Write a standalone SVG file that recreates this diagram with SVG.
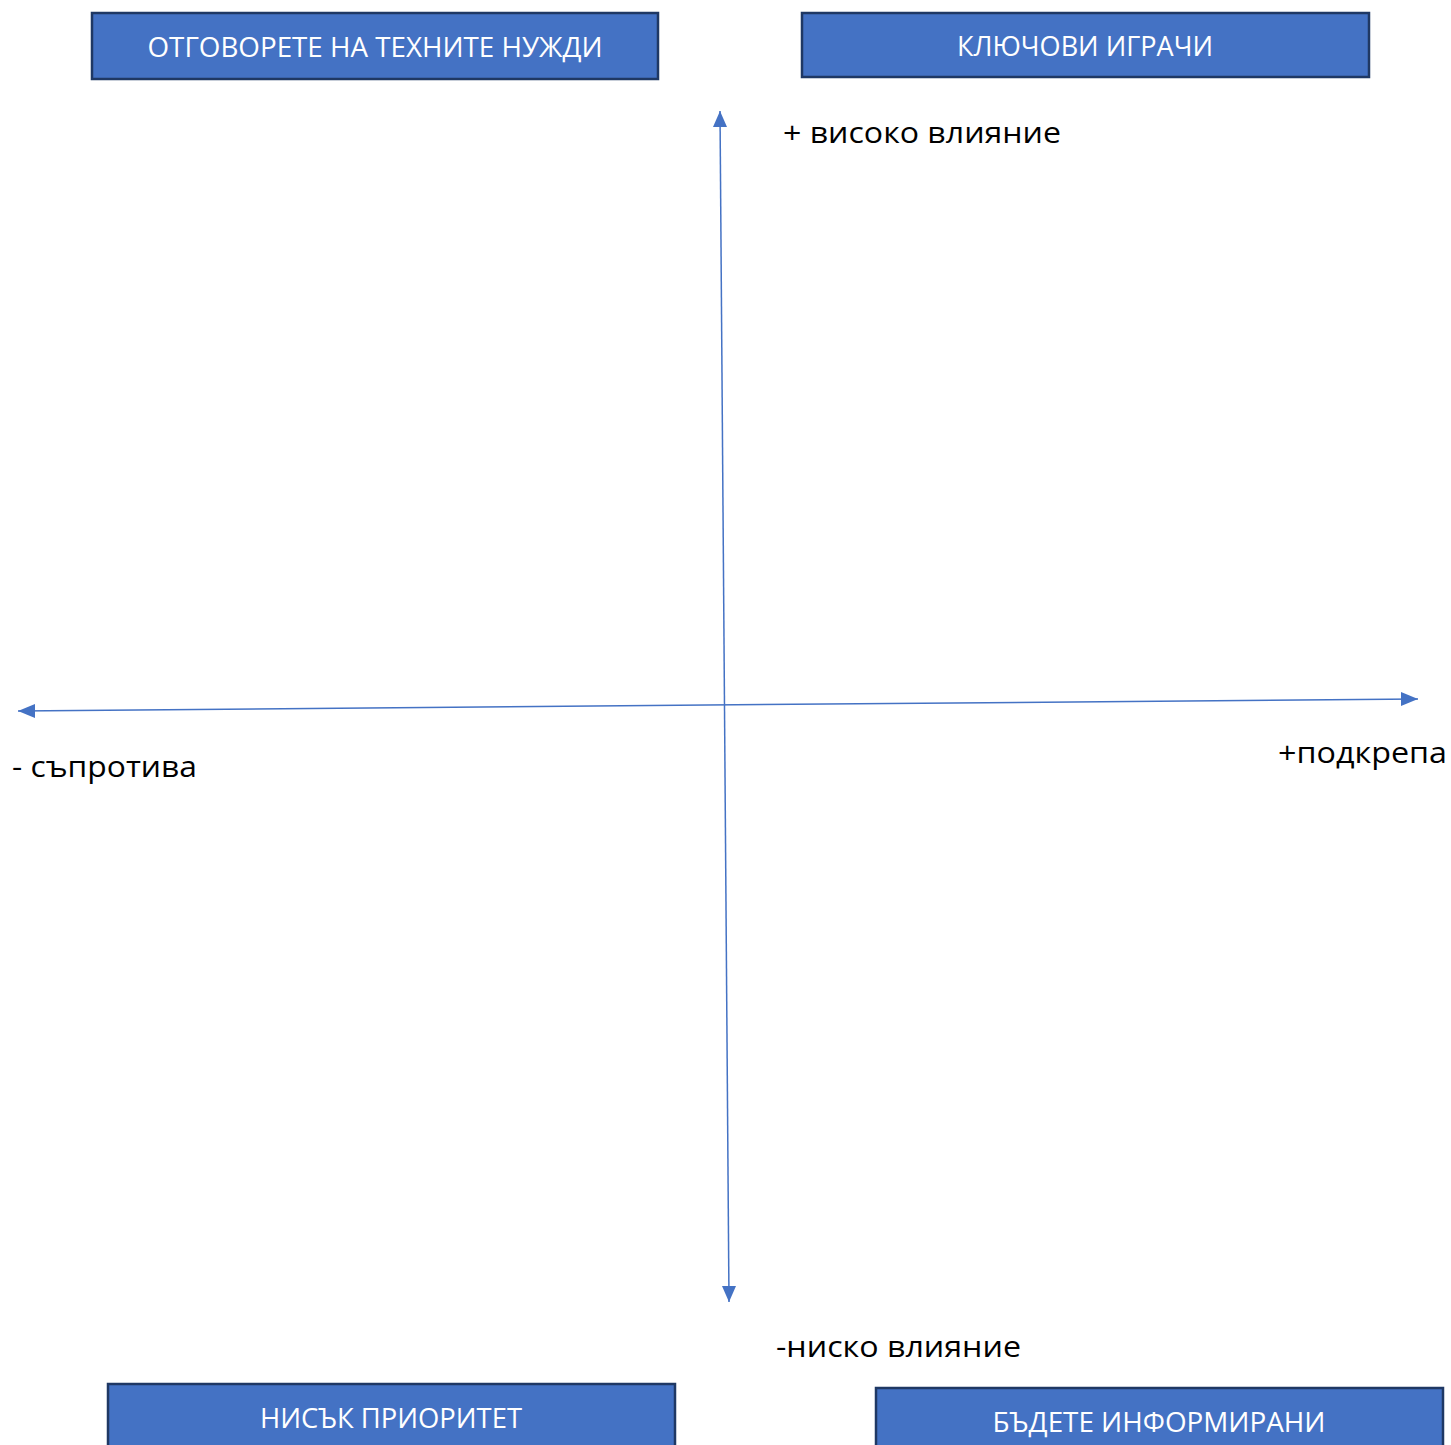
<svg xmlns="http://www.w3.org/2000/svg" width="1451" height="1445" viewBox="0 0 1451 1445">
<style>
.box{fill:#4472C4;stroke:#1F3864;stroke-width:2.5}
.bt{font-family:"Open Sans","Noto Sans",sans-serif;font-size:28px;fill:#FFFFFF;text-anchor:middle}
.lbl{font-family:"Open Sans","Noto Sans",sans-serif;font-size:30px;fill:#000000}
.ax{stroke:#4472C4;stroke-width:1.5;fill:none}
.head{fill:#4472C4}
</style>
<rect width="1451" height="1445" fill="#FFFFFF"/>
<g id="connectors">
<line class="ax" x1="720" y1="111" x2="729" y2="1302"/>
<path class="head" d="M720,111 L713,127 L727,127 z"/>
<path class="head" d="M729,1302 L722,1286 L736,1286 z"/>
<line class="ax" x1="18" y1="711" x2="1418" y2="699"/>
<path class="head" d="M18,711 L35,704 L35,718 z"/>
<path class="head" d="M1418,699 L1401,692 L1401,706 z"/>
</g>
<g id="node-needs">
<rect class="box" x="92" y="13" width="566" height="66"/>
<text class="bt" x="375" y="57" textLength="455" lengthAdjust="spacingAndGlyphs">ОТГОВОРЕТЕ НА ТЕХНИТЕ НУЖДИ</text>
</g>
<g id="node-key">
<rect class="box" x="802" y="13" width="567" height="64"/>
<text class="bt" x="1085" y="56" textLength="256" lengthAdjust="spacingAndGlyphs">КЛЮЧОВИ ИГРАЧИ</text>
</g>
<g id="node-low">
<rect class="box" x="108" y="1384" width="567" height="70"/>
<text class="bt" x="391" y="1428" textLength="262" lengthAdjust="spacingAndGlyphs">НИСЪК ПРИОРИТЕТ</text>
</g>
<g id="node-inform">
<rect class="box" x="876" y="1388" width="567" height="70"/>
<text class="bt" x="1159" y="1432" textLength="333" lengthAdjust="spacingAndGlyphs">БЪДЕТЕ ИНФОРМИРАНИ</text>
</g>
<g id="labels">
<text class="lbl" x="783" y="143" textLength="278" lengthAdjust="spacingAndGlyphs">+ високо влияние</text>
<text class="lbl" x="12" y="777" textLength="185" lengthAdjust="spacingAndGlyphs">- съпротива</text>
<text class="lbl" x="1278" y="763" textLength="169" lengthAdjust="spacingAndGlyphs">+подкрепа</text>
<text class="lbl" x="776" y="1357" textLength="245" lengthAdjust="spacingAndGlyphs">-ниско влияние</text>
</g>
</svg>
